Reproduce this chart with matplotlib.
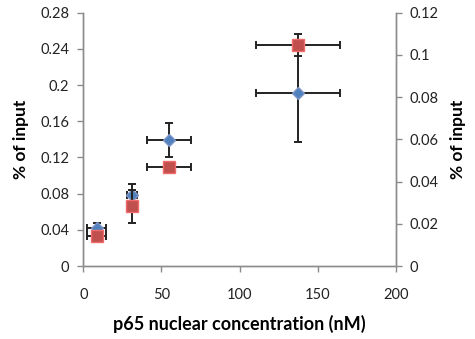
import matplotlib.pyplot as plt

plt.rcParams['font.family'] = ['Lato', 'DejaVu Sans']

# p65 nuclear concentration (nM) for each point
conc = [8.5, 31.3, 54.9, 137.1]
conc_err = [6.0, 3.2, 14.0, 26.8]

# series on the left axis (blue diamonds)
left_vals = [0.0424, 0.078, 0.1394, 0.1911]
left_err = [0.0055, 0.013, 0.019, 0.054]

# series on the right axis (red squares)
right_vals = [0.0142, 0.0282, 0.0471, 0.1048]
right_err = [0.0, 0.0076, 0.0, 0.0052]

fig = plt.figure(figsize=(4.75, 3.39), dpi=100)
ax = fig.add_axes([0.1754, 0.2153, 0.6583, 0.7472])
ax2 = ax.twinx()

grey = '#8c8c8c'

ax.errorbar(conc, left_vals, xerr=conc_err, yerr=left_err, fmt='D',
            color='#4f81bd', mec='#7f95c9', ms=6, ecolor='#222222',
            elinewidth=1.4, capsize=3, capthick=1.4, zorder=3)
ax2.errorbar(conc, right_vals, xerr=conc_err, yerr=right_err, fmt='s',
             color='#c0504d', mec='#f26b6b', ms=9, ecolor='#222222',
             elinewidth=1.4, capsize=3, capthick=1.4, zorder=3)

ax.set_xlim(0, 200)
ax.set_ylim(0, 0.28)
ax2.set_ylim(0, 0.12)
ax.set_xticks([0, 50, 100, 150, 200])
ax.set_yticks([0, 0.04, 0.08, 0.12, 0.16, 0.2, 0.24, 0.28])
ax.set_yticklabels(['0', '0.04', '0.08', '0.12', '0.16', '0.2', '0.24', '0.28'])
ax2.set_yticks([0, 0.02, 0.04, 0.06, 0.08, 0.1, 0.12])
ax2.set_yticklabels(['0', '0.02', '0.04', '0.06', '0.08', '0.1', '0.12'])

for a in (ax, ax2):
    a.spines['top'].set_visible(False)
    for s in ('left', 'right', 'bottom'):
        a.spines[s].set_color(grey)
        a.spines[s].set_linewidth(1.0)
    a.tick_params(direction='out', length=4, width=1, color=grey,
                  labelsize=10.5, labelcolor='#222222')
ax.tick_params(axis='x', pad=12)
ax.tick_params(axis='y', pad=6)
ax2.tick_params(axis='y', pad=6)

ax.set_xlabel('p65 nuclear concentration (nM)', fontsize=13, fontweight='bold',
              labelpad=9)
ax.set_ylabel('% of input', fontsize=12.5, fontweight='bold', labelpad=8)
ax2.set_ylabel('% of input', fontsize=12.5, fontweight='bold', labelpad=8)

fig.savefig('out.png', dpi=100)
